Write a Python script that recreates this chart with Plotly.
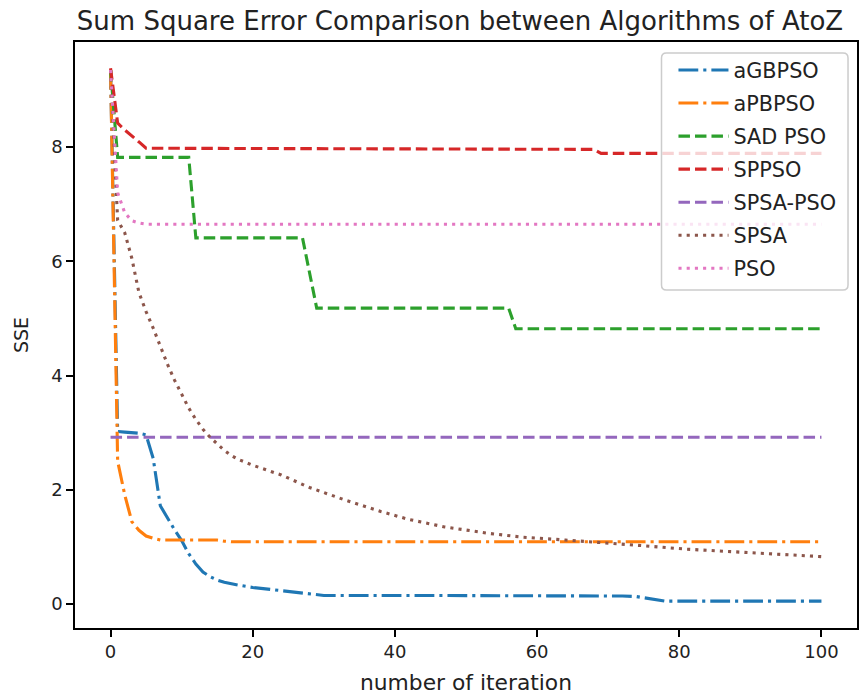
import plotly.graph_objects as go

# Sum of squared errors per iteration for each optimiser
agbpso_it = [0, 1, 2, 3, 4, 5, 6, 7, 8, 9, 10, 11, 12, 13, 14, 15, 16, 17, 18, 20, 22, 24,
             26, 28, 30, 40, 50, 60, 70, 72, 74, 75, 76, 77, 78, 80, 90, 100]
agbpso_sse = [9.35, 3.02, 3.01, 3.0, 2.99, 2.96, 2.55, 1.72, 1.5, 1.3, 1.11, 0.88, 0.7, 0.56,
              0.48, 0.42, 0.38, 0.35, 0.33, 0.29, 0.26, 0.23, 0.2, 0.17, 0.15, 0.15, 0.15,
              0.15, 0.15, 0.14, 0.13, 0.11, 0.08, 0.06, 0.05, 0.05, 0.05, 0.05]

apbpso_it = [0, 1, 2, 3, 4, 5, 6, 7, 10, 15, 16, 17, 20, 40, 60, 80, 100]
apbpso_sse = [9.35, 2.5, 1.91, 1.44, 1.29, 1.19, 1.15, 1.12, 1.12, 1.12, 1.1, 1.09, 1.09,
              1.09, 1.09, 1.09, 1.09]

sadpso_it = [0, 1, 11, 12, 27, 28, 29, 56, 57, 100]
sadpso_sse = [9.35, 7.82, 7.82, 6.41, 6.41, 5.8, 5.18, 5.18, 4.82, 4.82]

sppso_it = [0, 1, 2, 3, 4, 5, 68, 69, 100]
sppso_sse = [9.38, 8.42, 8.3, 8.2, 8.09, 7.98, 7.96, 7.89, 7.89]

spsapso_it = [0, 100]
spsapso_sse = [2.92, 2.92]

spsa_it = [0, 1, 2, 3, 4, 5, 6, 7, 8, 9, 10, 11, 12, 13, 14, 15, 16, 17, 18, 19, 20, 24, 28,
           33, 38, 42, 47, 53, 58, 64, 70, 75, 81, 87, 93, 100]
spsa_sse = [9.35, 6.72, 6.5, 6.05, 5.45, 5.12, 4.83, 4.5, 4.2, 3.92, 3.66, 3.43, 3.23, 3.06,
            2.92, 2.8, 2.69, 2.6, 2.53, 2.48, 2.43, 2.26, 2.04, 1.82, 1.62, 1.48, 1.35, 1.24,
            1.17, 1.12, 1.07, 1.02, 0.96, 0.92, 0.88, 0.83]

pso_it = [0, 1, 2, 3, 4, 5, 100]
pso_sse = [9.35, 7.2, 6.85, 6.71, 6.67, 6.65, 6.65]

x_ticks = [0, 20, 40, 60, 80, 100]
y_ticks = [0, 2, 4, 6, 8]

DASHDOT = "19.8px,5px,3.1px,5px"
DASHED = "11.5px,5px"
DOTTED = "3.1px,5.1px"

series = [
    ("aGBPSO", agbpso_it, agbpso_sse, "#1f77b4", DASHDOT),
    ("aPBPSO", apbpso_it, apbpso_sse, "#ff7f0e", DASHDOT),
    ("SAD PSO", sadpso_it, sadpso_sse, "#2ca02c", DASHED),
    ("SPPSO", sppso_it, sppso_sse, "#d62728", DASHED),
    ("SPSA-PSO", spsapso_it, spsapso_sse, "#9467bd", DASHED),
    ("SPSA", spsa_it, spsa_sse, "#8c564b", DOTTED),
    ("PSO", pso_it, pso_sse, "#e377c2", DOTTED),
]

fig = go.Figure()
for name, xs, ys, color, dash in series:
    fig.add_trace(go.Scatter(
        x=xs, y=ys, mode="lines", name=name, legendgroup=name,
        line=dict(color=color, width=3.1, dash=dash),
    ))

# plot-area geometry in pixels, used to place the legend frame
W, H = 863, 700
ML, MR, MT, MB = 75, 4, 42, 72
PW, PH = W - ML - MR, H - MT - MB


def px_x(p):
    return (p - ML) / PW


def px_y(p):
    return 1 - (p - MT) / PH


# rounded legend frame (semi-transparent white, light grey edge)
bx0, bx1, by0, by1, r = 663, 850, 53, 290, 5
rx, ry = r / PW, r / PH
x0, x1, y0, y1 = px_x(bx0), px_x(bx1), px_y(by1), px_y(by0)
frame_path = (
    f"M{x0 + rx},{y0} L{x1 - rx},{y0} Q{x1},{y0} {x1},{y0 + ry} "
    f"L{x1},{y1 - ry} Q{x1},{y1} {x1 - rx},{y1} "
    f"L{x0 + rx},{y1} Q{x0},{y1} {x0},{y1 - ry} "
    f"L{x0},{y0 + ry} Q{x0},{y0} {x0 + rx},{y0} Z"
)
fig.add_shape(type="path", path=frame_path, xref="paper", yref="paper",
              fillcolor="rgba(255,255,255,0.8)", line=dict(color="#cccccc", width=1.5),
              layer="above")

fig.update_layout(
    width=W, height=H,
    margin=dict(l=ML, r=MR, t=MT, b=MB),
    plot_bgcolor="white", paper_bgcolor="white",
    font=dict(family="DejaVu Sans", color="black", size=18),
    title=dict(
        text="Sum Square Error Comparison between Algorithms of AtoZ",
        x=px_x(461), xref="paper", xanchor="center",
        y=1 - 30 / H, yref="container", yanchor="bottom",
        font=dict(size=26, color="#222222"),
    ),
    showlegend=True,
    legend=dict(
        x=px_x(675), y=px_y(50), xanchor="left", yanchor="top",
        bgcolor="rgba(0,0,0,0)", borderwidth=0,
        font=dict(size=20.8, color="#222222"),
        itemwidth=50, tracegroupgap=3, traceorder="grouped",
    ),
    xaxis=dict(
        range=[-5, 105], tickvals=x_ticks, ticks="outside", ticklen=7, tickwidth=1.5,
        tickcolor="black", showline=True, linecolor="black", linewidth=1.5, mirror=True,
        showgrid=False, zeroline=False, tickfont=dict(size=18, color="#222222"),
        title=dict(text="number of iteration", font=dict(size=21.8, color="#222222"),
                   standoff=13),
    ),
    yaxis=dict(
        range=[-0.42, 9.84], tickvals=y_ticks, ticks="outside", ticklen=7, tickwidth=1.5,
        tickcolor="black", showline=True, linecolor="black", linewidth=1.5, mirror=True,
        showgrid=False, zeroline=False, tickfont=dict(size=18, color="#222222"),
        title=dict(text="SSE", font=dict(size=19, color="#222222"), standoff=18),
    ),
)

fig.write_html("out.html")
